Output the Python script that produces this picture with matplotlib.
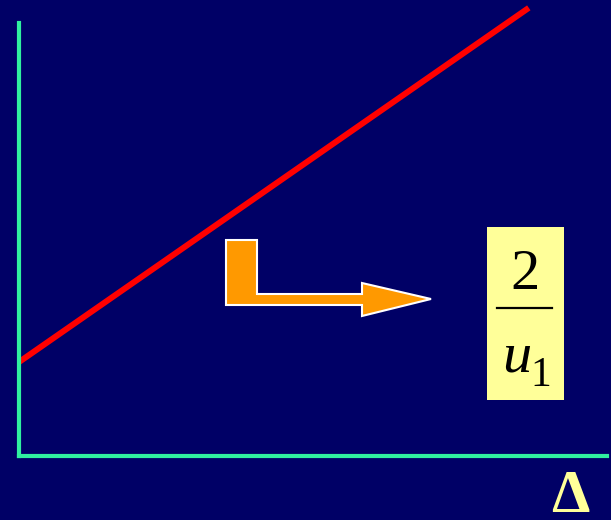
import matplotlib
matplotlib.use('Agg')
import matplotlib.pyplot as plt
from matplotlib.patches import Polygon, Rectangle

# Data: straight line (1/v against delta), axis units 0..1
delta = [0.0, 0.867]
inv_v = [0.217, 1.035]

# Colours
bg = '#000066'
axis_green = '#30F0A0'
line_red = '#FF0000'
arrow_orange = '#FF9900'
label_yellow = '#FFFF99'

W, H = 611, 520
fig = plt.figure(figsize=(W / 100, H / 100), dpi=100)
fig.patch.set_facecolor(bg)

# Main axes: left spine at x=19px, bottom spine at y=456px, top at y=23px
ax = fig.add_axes([19 / W, (H - 456) / H, 588 / W, 433 / H])
ax.set_facecolor(bg)
ax.set_xlim(0, 1)
ax.set_ylim(0, 1)
for side in ['top', 'right']:
    ax.spines[side].set_visible(False)
for side in ['left', 'bottom']:
    ax.spines[side].set_color(axis_green)
    ax.spines[side].set_linewidth(3)
ax.set_xticks([])
ax.set_yticks([])
ax.plot(delta, inv_v, color=line_red, linewidth=4.3, solid_capstyle='butt', clip_on=False)

# Overlay in pixel units for the annotation shapes
ov = fig.add_axes([0, 0, 1, 1], zorder=5)
ov.set_xlim(0, W)
ov.set_ylim(H, 0)
ov.axis('off')
ov.patch.set_alpha(0)

# L-shaped arrow pointing at the intercept label
arrow_pts = [(226, 240), (257, 240), (257, 294), (362, 294), (362, 283),
             (431, 299), (362, 316), (362, 305), (226, 305)]
ov.add_patch(Polygon(arrow_pts, closed=True, facecolor=arrow_orange,
                     edgecolor='white', linewidth=1.5, joinstyle='miter'))

# Intercept label box 2/u1
ov.add_patch(Rectangle((487, 227), 77, 173, facecolor=label_yellow, edgecolor='none'))
serif = ['Liberation Serif', 'DejaVu Serif']
ov.text(525, 289, '2', fontsize=42, family=serif, color='black', ha='center', va='baseline')
ov.plot([497, 552], [308, 308], color='black', linewidth=1.6)
ov.text(502, 372, 'u', fontsize=42, family=serif, style='italic', color='black',
        ha='left', va='baseline')
ov.text(530, 386, '1', fontsize=30, family=serif, color='black', ha='left', va='baseline')

# Axis label
ov.text(570, 512, '\u0394', fontsize=44, family=serif, weight='bold', color=label_yellow,
        ha='center', va='baseline')

fig.savefig('out.png', dpi=100, facecolor=bg)
